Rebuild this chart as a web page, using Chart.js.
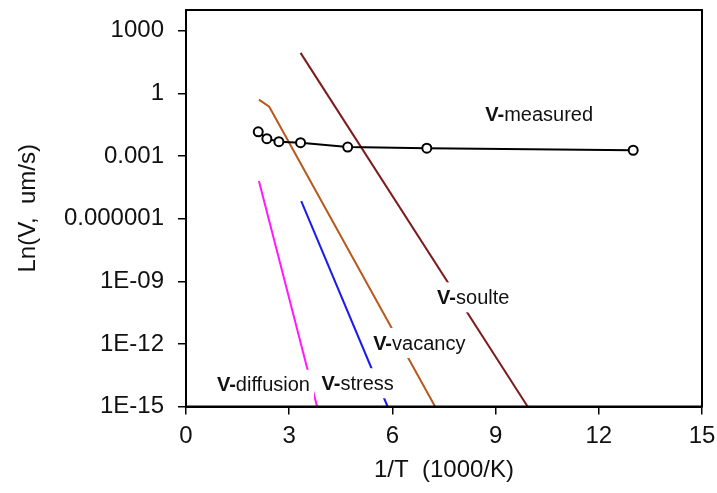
<!DOCTYPE html>
<html>
<head>
<meta charset="utf-8">
<script src="https://cdn.jsdelivr.net/npm/chart.js@4.4.1/dist/chart.umd.min.js"></script>
<style>
  html,body{margin:0;padding:0;background:#fff;}
  #wrap{width:717px;height:493px;position:relative;}
</style>
</head>
<body>
<div id="wrap"><canvas id="c"></canvas></div>
<script>
// ===== 数据 =====
const measuredX = [2.1, 2.35, 2.7, 3.33, 4.7, 7.0, 13.0];
const measuredV = [0.0146, 0.0068, 0.0049, 0.0044, 0.0027, 0.0024, 0.0019];
const soluteX = [3.33, 9.93];
const soluteV = [88, 1e-15];
const vacancyX = [2.12, 2.42, 7.24];
const vacancyV = [0.51, 0.23, 1e-15];
const stressX = [3.35, 5.86];
const stressV = [7.0e-6, 1e-15];
const diffusionX = [2.12, 3.81];
const diffusionV = [6.4e-5, 1e-15];

const xTicks = [0, 3, 6, 9, 12, 15];
const yTickValues = [1e-15, 1e-12, 1e-9, 1e-6, 1e-3, 1, 1e3];
const yTickLabels = ['1E-15', '1E-12', '1E-09', '0.000001', '0.001', '1', '1000'];

// 曲线标注（左端 x, 中心 y）
const notes = [
  {name: 'measured',  x: 8.7, y: 0.095},
  {name: 'soulte',    x: 7.3, y: 1.7e-10},
  {name: 'vacancy',   x: 5.44, y: 1.1e-12},
  {name: 'stress',    x: 3.94, y: 1.3e-14},
  {name: 'diffusion', x: 0.90, y: 1.1e-14}
];

const FONT = '"Liberation Sans", Arial, sans-serif';
const pts = (xs, vs) => xs.map((x, i) => ({x, y: vs[i]}));

function line(label, xs, vs, color){
  return {
    label, data: pts(xs, vs), showLine: true,
    borderColor: color, backgroundColor: color,
    borderWidth: 2, pointRadius: 0, tension: 0
  };
}

// 外框 + 标注
const framePlugin = {
  id: 'frame',
  afterDatasetsDraw(chart){
    const {ctx, chartArea: a, scales} = chart;
    ctx.save();
    const fs = 20;
    for(const n of notes){
      const px = scales.x.getPixelForValue(n.x);
      const py = scales.y.getPixelForValue(n.y);
      ctx.font = `bold ${fs}px ${FONT}`;
      const w1 = ctx.measureText('V-').width;
      ctx.font = `${fs}px ${FONT}`;
      const w2 = ctx.measureText(n.name).width;
      ctx.fillStyle = '#fff';
      ctx.fillRect(px - 4, py - 15, w1 + w2 + 8, 30);
      ctx.fillStyle = '#111';
      ctx.textBaseline = 'middle';
      ctx.textAlign = 'left';
      ctx.font = `bold ${fs}px ${FONT}`;
      ctx.fillText('V-', px, py + 1);
      ctx.font = `${fs}px ${FONT}`;
      ctx.fillText(n.name, px + w1, py + 1);
    }
    ctx.strokeStyle = '#000';
    ctx.lineWidth = 2;
    ctx.strokeRect(a.left, a.top, a.right - a.left, a.bottom - a.top);
    ctx.restore();
  }
};

new Chart(document.getElementById('c'), {
  type: 'scatter',
  data: {
    datasets: [
      {
        label: 'V-measured', data: pts(measuredX, measuredV), showLine: true,
        borderColor: '#000', borderWidth: 2,
        pointRadius: 4.5, pointBorderWidth: 2,
        pointBackgroundColor: '#fff', pointBorderColor: '#000'
      },
      line('V-soulte', soluteX, soluteV, '#7d1b1b'),
      line('V-vacancy', vacancyX, vacancyV, '#b85a1e'),
      line('V-stress', stressX, stressV, '#1a1aee'),
      line('V-diffusion', diffusionX, diffusionV, '#ff19ff')
    ]
  },
  options: {
    responsive: true, maintainAspectRatio: false, animation: false,
    layout: {padding: {top: 10, right: 15, left: 0, bottom: 0}},
    plugins: {legend: {display: false}, tooltip: {enabled: false}},
    scales: {
      x: {
        type: 'linear', min: 0, max: 15,
        afterBuildTicks: s => { s.ticks = xTicks.map(v => ({value: v})); },
        afterFit: s => { s.height = 86.5; s.paddingLeft = 0; s.paddingRight = 0; },
        border: {display: true, color: '#000', width: 2},
        grid: {drawOnChartArea: false, drawTicks: true, tickLength: 8, color: '#000', lineWidth: 1.5},
        ticks: {color: '#111', padding: 7, font: {family: FONT, size: 24}, maxRotation: 0},
        title: {display: true, text: '1/T  (1000/K)', color: '#111',
                font: {family: FONT, size: 24}, padding: {top: 0, bottom: 8}}
      },
      y: {
        type: 'logarithmic', min: 1e-15, max: 1e4,
        afterBuildTicks: s => { s.ticks = yTickValues.map(v => ({value: v})); },
        afterFit: s => { s.width = 186; s.paddingTop = 0; s.paddingBottom = 0; },
        border: {display: true, color: '#000', width: 2},
        grid: {drawOnChartArea: false, drawTicks: true, tickLength: 8, color: '#000', lineWidth: 1.5},
        ticks: {color: '#111', padding: 14, font: {family: FONT, size: 24},
                callback: (v, i) => yTickLabels[i]},
        title: {display: true, text: 'Ln(V,  um/s)', color: '#111',
                font: {family: FONT, size: 24}, padding: {top: 14, bottom: 0}}
      }
    }
  },
  plugins: [framePlugin]
});
</script>
</body>
</html>
